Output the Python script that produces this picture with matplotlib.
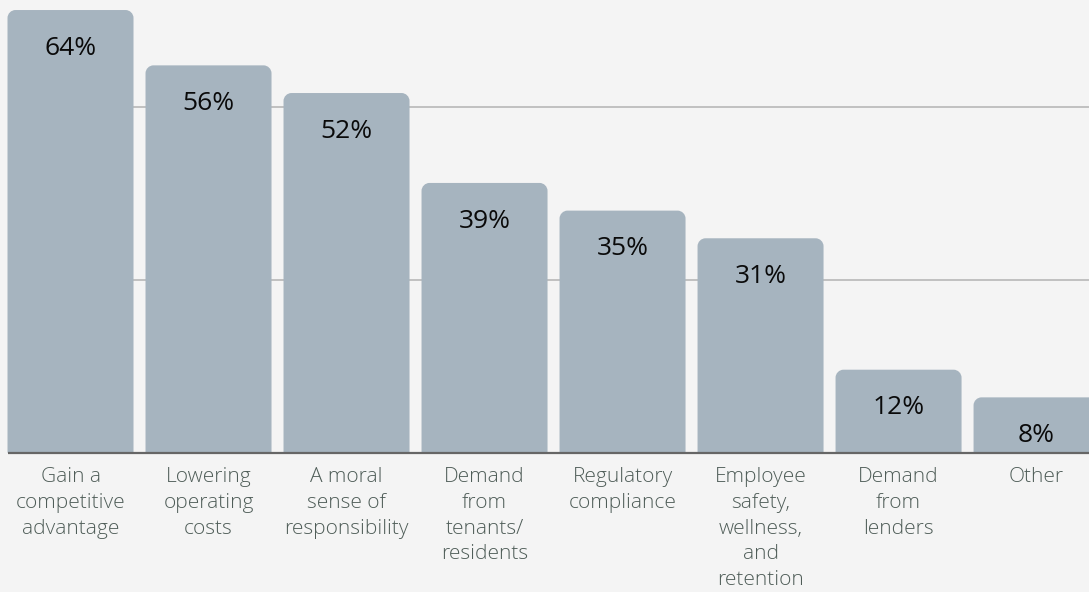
import matplotlib
matplotlib.use("Agg")
import matplotlib.pyplot as plt
from matplotlib.path import Path
from matplotlib.patches import PathPatch

categories = [
    "Gain a\ncompetitive\nadvantage",
    "Lowering\noperating\ncosts",
    "A moral\nsense of\nresponsibility",
    "Demand\nfrom\ntenants/\nresidents",
    "Regulatory\ncompliance",
    "Employee\nsafety,\nwellness,\nand\nretention",
    "Demand\nfrom\nlenders",
    "Other",
]
values = [64, 56, 52, 39, 35, 31, 12, 8]
value_labels = ["64%", "56%", "52%", "39%", "35%", "31%", "12%", "8%"]
gridlines = [25, 50]

BG = "#f4f4f4"
BAR = "#a6b4bf"
FONT = ["Open Sans", "DejaVu Sans"]

fig = plt.figure(figsize=(10.89, 5.92), dpi=100, facecolor=BG)
ax = fig.add_axes([0, 0.2353, 1, 0.7647])
ax.set_facecolor(BG)

xlim = (-0.5109, 7.380)
ylim = (0, 65.45)
ax.set_xlim(*xlim)
ax.set_ylim(*ylim)

width = 0.913
x = list(range(len(values)))
bars = ax.bar(x, values, width=width, color=BAR, zorder=2)

# rounded top corners (8 px radius)
rx = 8 / 138
ry = 8 / 6.917
k = 0.5523
for b in bars:
    x0, w, h = b.get_x(), b.get_width(), b.get_height()
    b.set_visible(False)
    verts = [(x0, 0), (x0, h - ry), (x0, h - ry + k * ry), (x0 + rx - k * rx, h), (x0 + rx, h),
             (x0 + w - rx, h), (x0 + w - rx + k * rx, h), (x0 + w, h - ry + k * ry), (x0 + w, h - ry),
             (x0 + w, 0), (x0, 0)]
    codes = [Path.MOVETO, Path.LINETO, Path.CURVE4, Path.CURVE4, Path.CURVE4,
             Path.LINETO, Path.CURVE4, Path.CURVE4, Path.CURVE4, Path.LINETO, Path.CLOSEPOLY]
    ax.add_patch(PathPatch(Path(verts, codes), facecolor=BAR, edgecolor="none", zorder=2))

left = x[0] - width / 2
ax.hlines(gridlines, left, xlim[1], color="#bcbcbc", lw=1.3, zorder=1)
ax.hlines([0], left, xlim[1], color="#666666", lw=1.6, zorder=3, clip_on=False)

for xi, v, lab in zip(x, values, value_labels):
    ax.annotate(lab, (xi, v), xytext=(0, -27.5), textcoords="offset points",
                ha="center", va="center", fontsize=19, color="#0a0a0a", family=FONT,
                fontweight="medium", zorder=4)

ax.set_xticks(x)
ax.set_xticklabels(categories, family=FONT, fontsize=15, color="#4f5d58",
                   linespacing=1.38, fontweight="light")
ax.tick_params(axis="x", length=0, pad=10.5)
ax.set_yticks([])
for s in ax.spines.values():
    s.set_visible(False)

fig.savefig("out.png", dpi=100, facecolor=BG)
